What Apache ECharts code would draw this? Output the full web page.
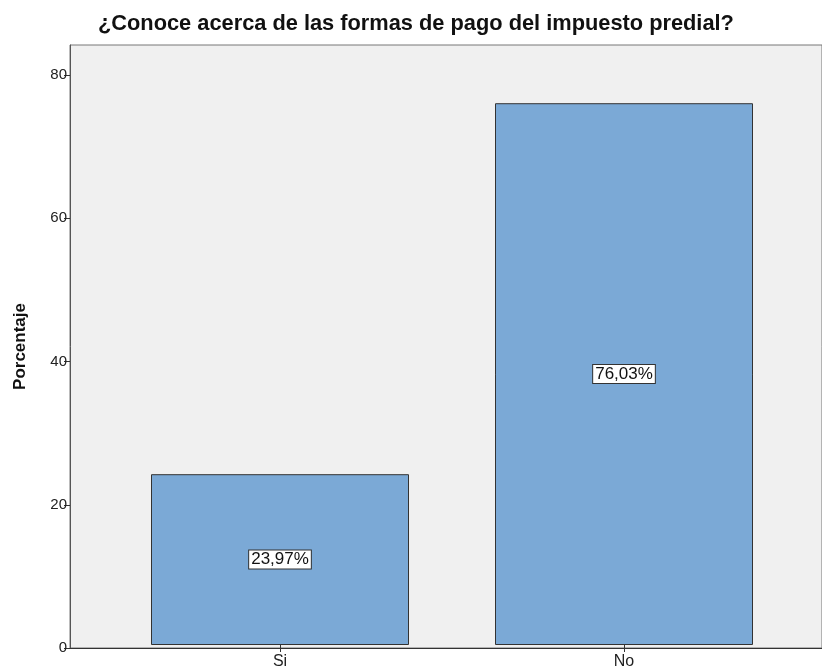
<!DOCTYPE html>
<html>
<head>
<meta charset="utf-8">
<script src="https://cdn.jsdelivr.net/npm/echarts@6/dist/echarts.min.js"></script>
<style>html,body{margin:0;padding:0;background:#fff}#c{width:822px;height:670px}</style>
</head>
<body>
<div id="c"></div>
<script>
const categories = ['Si', 'No'];
const percentages = [23.97, 76.03];
const yTicks = [0, 20, 40, 60, 80];
const titleText = '¿Conoce acerca de las formas de pago del impuesto predial?';
const yName = 'Porcentaje';

const FONT = "'Liberation Sans', Arial, sans-serif";
const chart = echarts.init(document.getElementById('c'), null, {renderer: 'canvas'});
chart.setOption({
  animation: false,
  title: {
    text: titleText, left: 93, top: 8,
    textStyle: {fontFamily: FONT, fontSize: 21.8, fontWeight: 'bold', color: '#111'}
  },
  grid: [
    {left: 70, top: 45, width: 764, bottom: 22, show: true, backgroundColor: '#F0F0F0', borderColor: '#777', borderWidth: 1},
    {left: 108, top: 45, width: 688, bottom: 22}
  ],
  xAxis: [
    {gridIndex: 0, type: 'value', min: 0, max: 1, axisLine: {show: true, lineStyle: {color: '#333', width: 1}}, axisTick: {show: false}, axisLabel: {show: false}, splitLine: {show: false}},
    {gridIndex: 1, type: 'category', data: categories, axisLine: {show: false},
      axisTick: {show: true, alignWithLabel: true, length: 7, lineStyle: {color: '#333'}},
      axisLabel: {fontFamily: FONT, fontSize: 16, color: '#222', margin: 9}}
  ],
  yAxis: [
    {gridIndex: 0, type: 'value', min: 0, max: 84.2,
      name: yName, nameLocation: 'middle', nameGap: 41, nameRotate: 90,
      nameTextStyle: {fontFamily: FONT, fontSize: 17, fontWeight: 'bold', color: '#111'},
      axisLine: {show: true, lineStyle: {color: '#555', width: 1}},
      axisTick: {show: true, length: 6, customValues: yTicks, lineStyle: {color: '#333'}},
      axisLabel: {fontFamily: FONT, fontSize: 15, color: '#222', margin: 3, customValues: yTicks},
      splitLine: {show: false}},
    {gridIndex: 1, type: 'value', min: 0, max: 84.2, show: false, splitLine: {show: false}}
  ],
  series: [{
    type: 'bar', xAxisIndex: 1, yAxisIndex: 1, data: percentages, barWidth: '75%',
    itemStyle: {color: '#7BA9D6', borderColor: '#333', borderWidth: 1},
    label: {show: true, position: 'inside', fontFamily: FONT, fontSize: 17, color: '#111',
      backgroundColor: '#fff', borderColor: '#333', borderWidth: 1, padding: [1, 2, 0, 2],
      formatter: p => p.value.toFixed(2).replace('.', ',') + '%'}
  }]
});
</script>
</body>
</html>
